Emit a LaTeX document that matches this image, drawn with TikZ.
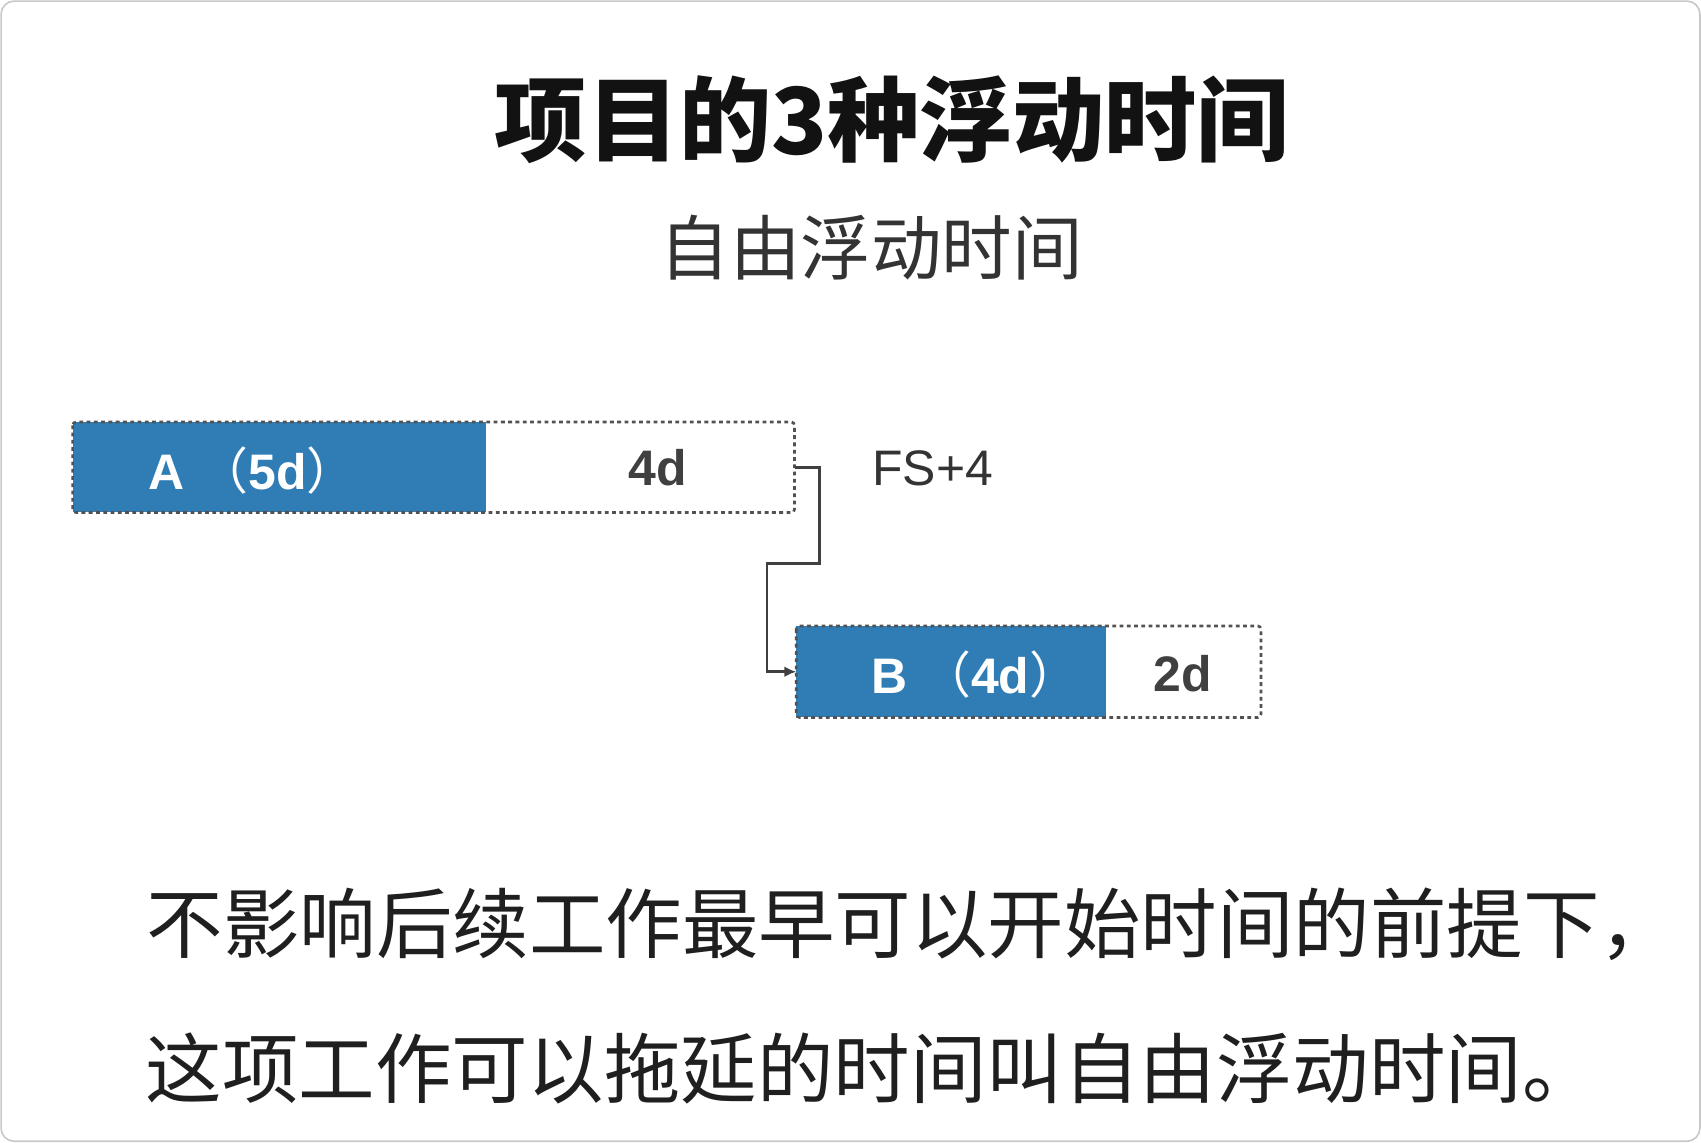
\documentclass[tikz,border=0pt]{standalone}
\usepackage{fontspec}
\setmainfont{Liberation Sans}
\newfontfamily\cjk{Noto Sans CJK SC}
\usetikzlibrary{arrows.meta}
\definecolor{barblue}{HTML}{307DB6}
\definecolor{frame}{HTML}{C8C8C8}
\begin{document}
\begin{tikzpicture}[x=1pt,y=-1pt,
  bluebar/.style={fill=barblue, draw=none, inner sep=0pt, anchor=north west, minimum height=83pt},
  floatbox/.style={inner sep=0pt, anchor=north west, minimum height=83pt},
  outline/.style={draw=black!68, line width=2.4pt, dash pattern=on 3.5pt off 3.2pt, rounded corners=3pt},
  barlabel/.style={text=white, font=\bfseries\fontsize{46}{50}\selectfont, inner sep=0pt, anchor=west},
  floatlabel/.style={text=black!75, font=\bfseries\fontsize{46}{50}\selectfont, inner sep=0pt},
  conn/.style={draw=black!75, line width=2.4pt, -{Latex[length=11pt,width=10pt]}},
  bodytext/.style={font=\cjk\fontsize{70.5}{80}\selectfont, text=black!88, inner sep=0pt, anchor=west}]
\useasboundingbox (0,0) rectangle (1568,1053);
\draw[draw=frame, line width=1.5pt, rounded corners=12pt] (1,1) rectangle (1567,1052);

\node[font=\cjk\bfseries\fontsize{85}{100}\selectfont, text=black!93] (title) at (822,110) {项目的3种浮动时间};
\node[font=\cjk\fontsize{65}{75}\selectfont, text=black!80] (sub) at (803,228) {自由浮动时间};

\node[bluebar, minimum width=381pt] (A) at (67,389) {};
\node[floatbox, minimum width=284pt] (Af) at (448,389) {};
\draw[outline] (A.north west) rectangle (Af.south east);
\node[barlabel] (Alab) at (137,434) {A {\cjk\mdseries（}5d{\cjk\mdseries）}};
\node[floatlabel] (Aflab) at (606,431) {4d};

\node[bluebar, minimum width=285pt, minimum height=84pt] (B) at (734,577) {};
\node[floatbox, minimum width=143pt, minimum height=84pt] (Bf) at (1019,577) {};
\draw[outline] (B.north west) rectangle (Bf.south east);
\node[barlabel] (Blab) at (803,622) {B {\cjk\mdseries（}4d{\cjk\mdseries）}};
\node[floatlabel] (Bflab) at (1090,621) {2d};

\node[font=\fontsize{46}{50}\selectfont, text=black!80, anchor=west, inner sep=0pt] (fs) at (804,432) {FS+4};

\draw[conn] (Af.east) -- ++(23,0) -- ++(0,89) -| ([xshift=-27pt]B.west) -- (B.west);

\node[bodytext] (l1) at (135,852) {不影响后续工作最早可以开始时间的前提下，};
\node[bodytext] (l2) at (134,985) {这项工作可以拖延的时间叫自由浮动时间。};
\end{tikzpicture}
\end{document}
